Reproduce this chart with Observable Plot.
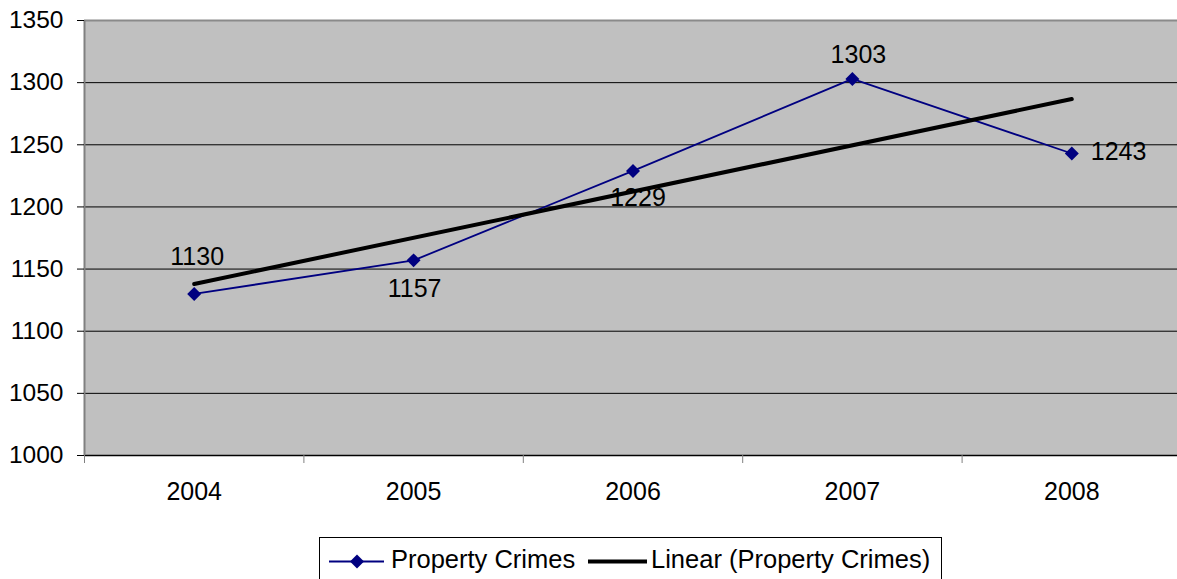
<!DOCTYPE html>
<html>
<head>
<meta charset="utf-8">
<script src="https://cdn.jsdelivr.net/npm/d3@7"></script>
<script src="https://cdn.jsdelivr.net/npm/@observablehq/plot@0.6"></script>
<style>
  html, body { margin: 0; padding: 0; background: #ffffff; }
  body { width: 1177px; height: 579px; overflow: hidden; font-family: Arial, "Liberation Sans", sans-serif; }
  #chart svg { display: block; }
  #legend { display: block; }
</style>
</head>
<body>
<div id="chart"></div>
<svg id="legend" width="1177" height="59"></svg>
<script>
// ---- data ----
const years = [2004, 2005, 2006, 2007, 2008];
const crimes = [1130, 1157, 1229, 1303, 1243];
const yTicks = [1000, 1050, 1100, 1150, 1200, 1250, 1300, 1350];
const gridValues = [1050, 1100, 1150, 1200, 1250, 1300];
const seriesName = "Property Crimes";
const trendName = "Linear (Property Crimes)";

// label placement (style config, kept apart from data)
const labelDx = [3, 1, 5, 6, 19];
const labelDy = [-37, 29, 27, -24, -1];
const labelAnchor = ["middle", "middle", "middle", "middle", "start"];

const data = years.map((year, i) => ({year, value: crimes[i]}));
const boundaries = years.map(y => y - 0.5).concat([years[years.length - 1] + 0.5]);

const FONT = 'Arial, "Liberation Sans", sans-serif';
const BLUE = "#000080";

const labelMarks = data.map((d, i) =>
  Plot.text([d], {
    x: "year", y: "value", text: d => String(d.value),
    dx: labelDx[i], dy: labelDy[i], textAnchor: labelAnchor[i],
    fontSize: 25, fill: "#000"
  })
);

const plot = Plot.plot({
  width: 1177,
  height: 520,
  marginTop: 20,
  marginBottom: 65,
  marginLeft: 84,
  marginRight: 0,
  style: {fontFamily: FONT, background: "transparent", overflow: "visible"},
  x: {type: "linear", domain: [2003.5, 2008.5], range: [84, 1181]},
  y: {domain: [1000, 1350]},
  marks: [
    Plot.rect([0], {x1: 2003.5, x2: 2008.5, y1: 1000, y2: 1350, fill: "#c0c0c0"}),
    Plot.ruleY(gridValues, {stroke: "#000", strokeWidth: 1}),
    Plot.ruleY([1350], {stroke: "#8a8a8a", strokeWidth: 2}),
    Plot.ruleY([1000], {stroke: "#000", strokeWidth: 1.5}),
    Plot.ruleX([2003.5], {stroke: "#808080", strokeWidth: 2}),
    Plot.axisY({ticks: yTicks, tickSize: 7, tickPadding: 14, fontSize: 24.5, tickFormat: d => String(d), stroke: "#000", label: null}),
    Plot.axisX({ticks: boundaries, tickSize: 8, tickFormat: () => "", stroke: "#808080", label: null}),
    Plot.axisX({ticks: years, tickSize: 0, tickPadding: 27, fontSize: 25, tickFormat: d => String(d), label: null}),
    Plot.line(data, {x: "year", y: "value", stroke: BLUE, strokeWidth: 1.8}),
    Plot.linearRegressionY(data, {x: "year", y: "value", ci: 0, stroke: "#000", strokeWidth: 4}),
    Plot.dot(data, {x: "year", y: "value", symbol: "diamond2", r: 6.3, fill: BLUE, stroke: "none"}),
    ...labelMarks
  ]
});
document.getElementById("chart").appendChild(plot);

// ---- legend (below the plot svg) ----
const lg = d3.select("#legend");
lg.append("rect").attr("x", 319.5).attr("y", 17.5).attr("width", 622).attr("height", 60)
  .attr("fill", "#fff").attr("stroke", "#000").attr("stroke-width", 1);
lg.append("line").attr("x1", 329).attr("x2", 384).attr("y1", 41.5).attr("y2", 41.5)
  .attr("stroke", BLUE).attr("stroke-width", 1.8);
lg.append("path").attr("transform", "translate(357,41.5)")
  .attr("d", d3.symbol(d3.symbolDiamond2, 6.3 * 6.3 * Math.PI)()).attr("fill", BLUE);
lg.append("text").attr("x", 391).attr("y", 47.5).attr("font-size", 25.5)
  .attr("font-family", FONT).attr("fill", "#000").text(seriesName);
lg.append("line").attr("x1", 588).attr("x2", 647).attr("y1", 41.5).attr("y2", 41.5)
  .attr("stroke", "#000").attr("stroke-width", 4);
lg.append("text").attr("x", 651).attr("y", 47.5).attr("font-size", 25.5)
  .attr("font-family", FONT).attr("fill", "#000").text(trendName);
</script>
</body>
</html>
